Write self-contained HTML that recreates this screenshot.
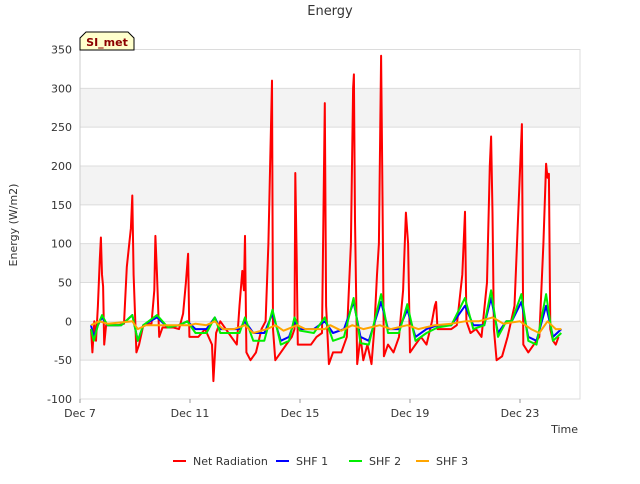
<!DOCTYPE html>
<html><head><meta charset="utf-8"><style>
body{margin:0;background:#fff;font-family:"DejaVu Sans","Liberation Sans",sans-serif;}
svg text{font-family:"DejaVu Sans","Liberation Sans",sans-serif;}
</style></head><body>
<svg id="chart" width="640" height="480" xmlns="http://www.w3.org/2000/svg">
<rect width="640" height="480" fill="#fff"/>
<g id="bands"></g>
<g id="grid"></g>
<g id="series" clip-path="url(#clip)"></g>
<defs><clipPath id="clip"><rect x="80" y="50" width="500" height="350"/></clipPath></defs>
<g id="axes"></g>
<text x="330" y="15" text-anchor="middle" font-size="13" fill="#333">Energy</text>
<text x="0" y="0" transform="translate(17,225) rotate(-90)" text-anchor="middle" font-size="11" fill="#333">Energy (W/m2)</text>
<text x="578" y="433" text-anchor="end" font-size="11" fill="#333">Time</text>
<g>
<path d="M80,50 L80,38 L86,32 L128,32 L134,38 L134,50 Z" fill="#ffffcc" stroke="#000" stroke-width="1"/>
<text x="107" y="46" text-anchor="middle" font-size="11" font-weight="bold" fill="#8b0000">SI_met</text>
</g>
<g id="legend"></g>
</svg>
<script>
const yTicks=[-100,-50,0,50,100,150,200,250,300,350];
const xTickLabels=["Dec 7","Dec 11","Dec 15","Dec 19","Dec 23"];
const xTickDays=[0,4,8,12,16];
const seriesNames=["Net Radiation","SHF 1","SHF 2","SHF 3"];
const seriesColors=["#ff0000","#0000ff","#00ee00","#ffa500"];
const netT=[0.40,0.45,0.52,0.58,0.65,0.72,0.76,0.80,0.84,0.88,0.95,1.1,1.4,1.6,1.7,1.85,1.9,1.95,2.05,2.15,2.3,2.6,2.7,2.74,2.8,2.88,3.0,3.4,3.6,3.75,3.85,3.93,3.98,4.3,4.55,4.8,4.85,4.95,5.1,5.3,5.5,5.7,5.8,5.9,5.96,6.0,6.05,6.2,6.4,6.6,6.75,6.85,6.98,7.02,7.1,7.3,7.5,7.7,7.8,7.83,7.88,7.92,8.1,8.4,8.6,8.8,8.9,8.95,9.05,9.2,9.5,9.7,9.85,9.93,9.96,10.0,10.08,10.2,10.3,10.45,10.6,10.7,10.8,10.87,10.95,11.0,11.05,11.2,11.4,11.6,11.75,11.85,11.93,12.0,12.2,12.4,12.6,12.8,12.9,12.95,13.0,13.3,13.5,13.7,13.9,14.0,14.05,14.2,14.4,14.6,14.8,14.9,14.95,15.0,15.05,15.15,15.35,15.55,15.8,15.95,16.07,16.12,16.3,16.5,16.7,16.85,16.95,17.0,17.05,17.1,17.2,17.3,17.4];
const netV=[-10,-40,0,-25,20,80,108,60,45,-30,-5,-5,-5,-3,70,120,162,60,-40,-30,-5,-3,40,110,60,-20,-8,-8,-10,10,50,87,-20,-20,-10,-30,-77,-15,0,-10,-20,-30,20,65,40,110,-40,-50,-40,-10,0,100,310,-10,-50,-40,-30,-20,-10,191,80,-30,-30,-30,-20,-15,281,20,-55,-40,-40,-20,100,300,318,130,-55,-20,-50,-30,-55,-10,60,100,342,160,-45,-30,-40,-20,40,140,100,-40,-30,-20,-30,0,20,25,-10,-10,-10,-5,60,141,0,-15,-10,-20,50,200,238,140,-10,-50,-45,-20,20,150,254,-30,-40,-30,-20,100,203,185,190,-10,-25,-30,-20];
const shf1T=[0.4,0.5,0.65,0.8,1.0,1.5,1.9,2.1,2.3,2.8,3.2,3.6,3.9,4.2,4.6,4.9,5.1,5.5,5.8,6.0,6.3,6.7,7.0,7.3,7.6,7.8,8.0,8.5,8.9,9.2,9.6,9.95,10.2,10.5,10.95,11.2,11.6,11.9,12.2,12.6,13.0,13.5,14.0,14.3,14.7,14.95,15.2,15.5,15.7,16.05,16.3,16.6,16.95,17.2,17.5];
const shf1V=[-5,-20,-5,5,-5,-5,8,-25,-5,5,-8,-5,0,-10,-10,5,-10,-10,-10,0,-15,-15,10,-25,-20,0,-10,-10,0,-15,-10,25,-20,-25,25,-10,-10,15,-20,-10,-5,-5,20,-5,-5,30,-15,0,0,25,-20,-25,20,-20,-10];
const shf2T=[0.4,0.5,0.65,0.8,1.0,1.5,1.9,2.1,2.3,2.8,3.2,3.6,3.9,4.2,4.6,4.9,5.1,5.5,5.8,6.0,6.3,6.7,7.0,7.3,7.6,7.8,8.0,8.5,8.9,9.2,9.6,9.95,10.2,10.5,10.95,11.2,11.6,11.9,12.2,12.6,13.0,13.5,14.0,14.3,14.7,14.95,15.2,15.5,15.7,16.05,16.3,16.6,16.95,17.2,17.5];
const shf2V=[-10,-25,-5,8,-5,-5,8,-25,-5,8,-8,-5,0,-15,-15,5,-15,-15,-15,5,-25,-25,15,-30,-25,5,-12,-15,5,-25,-20,30,-28,-30,35,-15,-15,22,-25,-15,-8,-5,30,-10,-5,40,-20,0,0,35,-25,-30,35,-25,-15];
const shf3T=[0.4,0.7,1.0,1.9,2.1,2.4,3.0,4.0,4.2,4.6,4.9,5.2,5.6,6.0,6.3,6.8,7.1,7.4,7.9,8.2,8.9,9.1,9.5,9.9,10.3,10.9,11.3,11.9,12.3,12.9,13.5,14.0,14.5,15.0,15.4,16.0,16.4,16.7,17.0,17.3,17.5];
const shf3V=[-5,0,-3,0,-10,-5,-5,-5,-3,-5,0,-10,-10,-5,-15,-10,-5,-12,-5,-10,-10,-5,-12,-5,-10,-5,-10,-5,-10,-5,-3,0,0,5,-3,0,-10,-15,0,-10,-10];

const X0=80,X1=580,Y0=399,Y1=49.5,YMIN=-100,YMAX=350;
const xs=d=>X0+d*27.5;
const ys=v=>Y0-(v-YMIN)*(Y0-Y1)/(YMAX-YMIN);
const NS="http://www.w3.org/2000/svg";
function mk(tag,attrs,parent){const e=document.createElementNS(NS,tag);for(const k in attrs)e.setAttribute(k,attrs[k]);parent.appendChild(e);return e;}
const bands=document.getElementById('bands'),grid=document.getElementById('grid'),axes=document.getElementById('axes');
mk('rect',{x:X0,y:Y1,width:X1-X0,height:Y0-Y1,fill:'#fff',stroke:'#ddd'},bands);
for(let i=0;i<yTicks.length-1;i++){
  if(i%2===1){const r=mk('rect',{x:X0,y:ys(yTicks[i+1]),width:X1-X0,height:ys(yTicks[i])-ys(yTicks[i+1]),fill:'#f3f3f3'},bands);
  
  }
}
yTicks.forEach(v=>{
  const l=mk('line',{x1:X0,x2:X1,y1:ys(v),y2:ys(v),stroke:'#dcdcdc','stroke-width':1},grid);
  
  
  const t=mk('text',{x:X0-8,y:ys(v)+4,'text-anchor':'end','font-size':11,fill:'#333'},axes);
  t.textContent=v;
  
  
});
xTickDays.forEach((d,i)=>{
  mk('line',{x1:xs(d),x2:xs(d),y1:Y0,y2:Y0+4,stroke:'#999'},axes);
  const t=mk('text',{x:xs(d),y:Y0+18,'text-anchor':'middle','font-size':11,fill:'#333'},axes);
  t.textContent=xTickLabels[i];
  
  
});
mk('line',{x1:X0,x2:X0,y1:Y1,y2:Y0,stroke:'#ccc'},axes);
const ser=document.getElementById('series');
const data=[[netT,netV],[shf1T,shf1V],[shf2T,shf2V],[shf3T,shf3V]];
const names=['net-radiation-line','shf1-line','shf2-line','shf3-line'];
[0,1,2,3].forEach(i=>{
  const [T,V]=data[i];
  const d=T.map((t,j)=>(j?'L':'M')+xs(t).toFixed(1)+','+ys(V[j]).toFixed(1)).join(' ');
  const p=mk('path',{d:d,fill:'none',stroke:seriesColors[i],'stroke-width':2,'stroke-linejoin':'round'},ser);
  
  
});
const leg=document.getElementById('legend');
const lx=[173,276,349,416];
seriesNames.forEach((n,i)=>{
  const g=mk('g',{},leg);
  
  
  mk('line',{x1:lx[i],x2:lx[i]+13,y1:461,y2:461,stroke:seriesColors[i],'stroke-width':2},g);
  const t=mk('text',{x:lx[i]+20,y:465,'font-size':11,fill:'#333'},g);
  t.textContent=n;
});
</script>
</body></html>
